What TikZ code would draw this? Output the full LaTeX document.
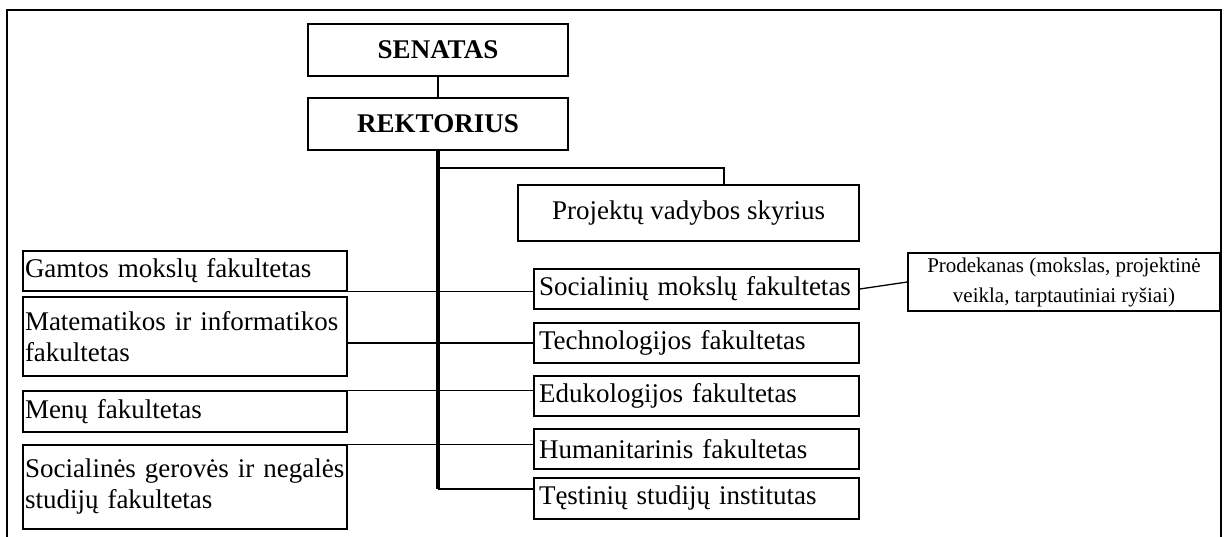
\documentclass[tikz,border=0pt]{standalone}
\usepackage{fontspec}
\setmainfont{Liberation Serif}
\begin{document}
\begin{tikzpicture}[x=1pt,y=-1pt,
  box/.style={draw, line width=1.5pt, inner ysep=0pt},
  big/.style={font=\fontsize{27}{31}\selectfont},
  topbox/.style={box, big, font=\fontsize{27}{31}\selectfont\bfseries, minimum width=260pt, minimum height=52pt},
  lbox/.style={box, big, inner xsep=2pt, text width=320pt, minimum height=#1, align=left},
  rbox/.style={box, big, inner xsep=5pt, text width=315pt, minimum height=#1, align=left},
  conn/.style={line width=1.3pt},
  trunk/.style={line width=4pt},
  frame/.style={line width=1.6pt}
]
\useasboundingbox (0,0) rectangle (1225,537);

% outer frame (open at the bottom edge of the page)
\draw[frame] (7,560) -- (7,10) -- (1221,10) -- (1221,560);

% governing bodies
\node[topbox] (sen) at (438,50) {SENATAS};
\node[topbox] (rek) at (438,124) {REKTORIUS};

% project office
\node[box, big, minimum width=341pt, minimum height=56pt] (proj) at (688.5,213) {Projektų vadybos skyrius};

% faculties, right column
\node[rbox=40pt] (soc)  at (696.5,289)   {Socialinių mokslų fakultetas};
\node[rbox=40pt] (tech) at (696.5,343)   {Technologijos fakultetas};
\node[rbox=40pt] (edu)  at (696.5,396)   {Edukologijos fakultetas};
\node[rbox=40pt] (hum)  at (696.5,449)   {Humanitarinis fakultetas};
\node[rbox=41pt] (test) at (696.5,498.5) {Tęstinių studijų institutas};

% faculties, left column
\node[lbox=40pt] (gam) at (185,271)   {Gamtos mokslų fakultetas};
\node[lbox=79pt] (mat) at (185,336.5) {Matematikos ir informatikos\\fakultetas};
\node[lbox=41pt] (men) at (185,411.5) {Menų fakultetas};
\node[lbox=84pt] (sgn) at (185,487)   {Socialinės gerovės ir negalės\\studijų fakultetas};

% vice-dean
\node[box, inner xsep=2pt, minimum width=312pt, minimum height=58pt, align=center,
      font=\fontsize{21}{30}\selectfont] (prod) at (1064,282)
      {Prodekanas (mokslas, projektinė\\veikla, tarptautiniai ryšiai)};

% connectors
\draw[conn] (sen.south) -- (rek.north);
\coordinate (tb) at (rek.south |- 0,489);
\coordinate (br) at (rek.south |- 0,168);
\draw[trunk] (rek.south) -- (tb);
\draw[conn] (tb) -- (tb -| test.west);
\draw[conn] (br) -| ([xshift=35.5pt]proj.north);
\draw[conn] (gam.south east) -- (gam.south east -| soc.west);
\draw[conn] (mat.east |- tech.west) -- (tech.west);
\draw[conn] (men.north east) -- (men.north east -| edu.west);
\draw[conn] (sgn.north east) -- (sgn.north east -| hum.west);
\draw[conn] (soc.east) -- (prod.west);
\end{tikzpicture}
\end{document}
